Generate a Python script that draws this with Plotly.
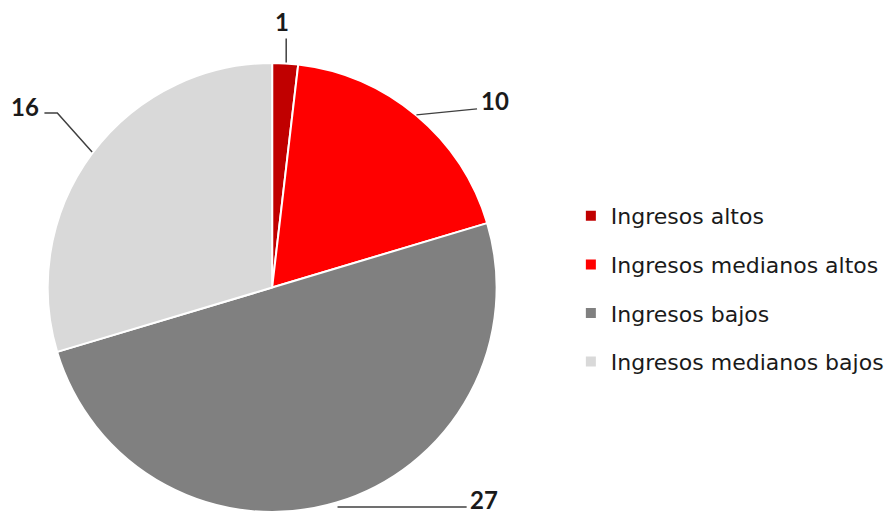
import math
import plotly.graph_objects as go

categories = ["Ingresos altos", "Ingresos medianos altos", "Ingresos bajos", "Ingresos medianos bajos"]
values = [1, 10, 27, 16]
colors = ["#C00000", "#FF0000", "#808080", "#D9D9D9"]

W, H = 889, 513
CX, CY, R = 274, 288, 226  # pie centre / radius in pixels (layout)

def px(x):
    return x / W

def py(y):
    return 1 - y / H

fig = go.Figure()
fig.add_trace(go.Pie(
    labels=categories, values=values, sort=False, direction="clockwise", rotation=0,
    marker=dict(colors=colors, line=dict(color="white", width=2)),
    textinfo="none", hoverinfo="label+value", showlegend=False,
    domain=dict(x=[px(CX - R), px(CX + R)], y=[0, py(CY - R)]),
))

# legend via dummy traces (one group each for spacing)
for c, col in zip(categories, colors):
    fig.add_trace(go.Scatter(x=[None], y=[None], mode="markers", name=c,
                             marker=dict(symbol="square", size=10, color=col),
                             legendgroup=c, showlegend=True))

# leader lines + labels computed from slice mid-angles
total = sum(values)
cum = 0
label_style = ["up", "right", "down", "left"]
shapes = []
annotations = []
for i, v in enumerate(values):
    mid = (cum + v / 2) / total * 2 * math.pi
    cum += v
    ex = CX + R * math.sin(mid)
    ey = CY - R * math.cos(mid)
    style = label_style[i]
    if style == "up":
        pts = [(ex + 1, ey), (ex + 1, ey - 24)]
        tx, ty, xa = ex - 3, ey - 41, "center"
    elif style == "right":
        pts = [(ex, ey), (ex + 61, ey - 6)]
        tx, ty, xa = ex + 63, ey - 14, "left"
    elif style == "down":
        pts = [(ex + 1, ey + 2.5), (ex + 131, ey + 2.5)]
        tx, ty, xa = ex + 132, ey - 5.5, "left"
    else:
        pts = [(ex, ey - 1), (ex - 35, ey - 40), (ex - 48, ey - 40)]
        tx, ty, xa = ex - 51, ey - 47, "right"
    path = "M " + " L ".join(f"{px(a):.5f},{py(b):.5f}" for a, b in pts)
    shapes.append(dict(type="path", path=path, xref="paper", yref="paper",
                       line=dict(color="#404040", width=1.5)))
    annotations.append(dict(x=px(tx), y=py(ty), xref="paper", yref="paper",
                            text=f"<b>{v}</b>", showarrow=False, xanchor=xa, yanchor="middle",
                            font=dict(size=24, color="#1a1a1a", family="Lato")))

fig.update_layout(
    width=W, height=H, margin=dict(l=0, r=0, t=0, b=0),
    paper_bgcolor="white", plot_bgcolor="white",
    xaxis=dict(visible=False), yaxis=dict(visible=False),
    shapes=shapes, annotations=annotations,
    legend=dict(x=0.6465, y=py(195), xanchor="left", yanchor="top",
                font=dict(size=22, family="DejaVu Sans", color="#1a1a1a"),
                tracegroupgap=17, itemsizing="trace"),
    font=dict(family="Lato"),
)

fig.write_html("out.html", config={"displayModeBar": False},
               post_script="document.body.style.margin='0';")
